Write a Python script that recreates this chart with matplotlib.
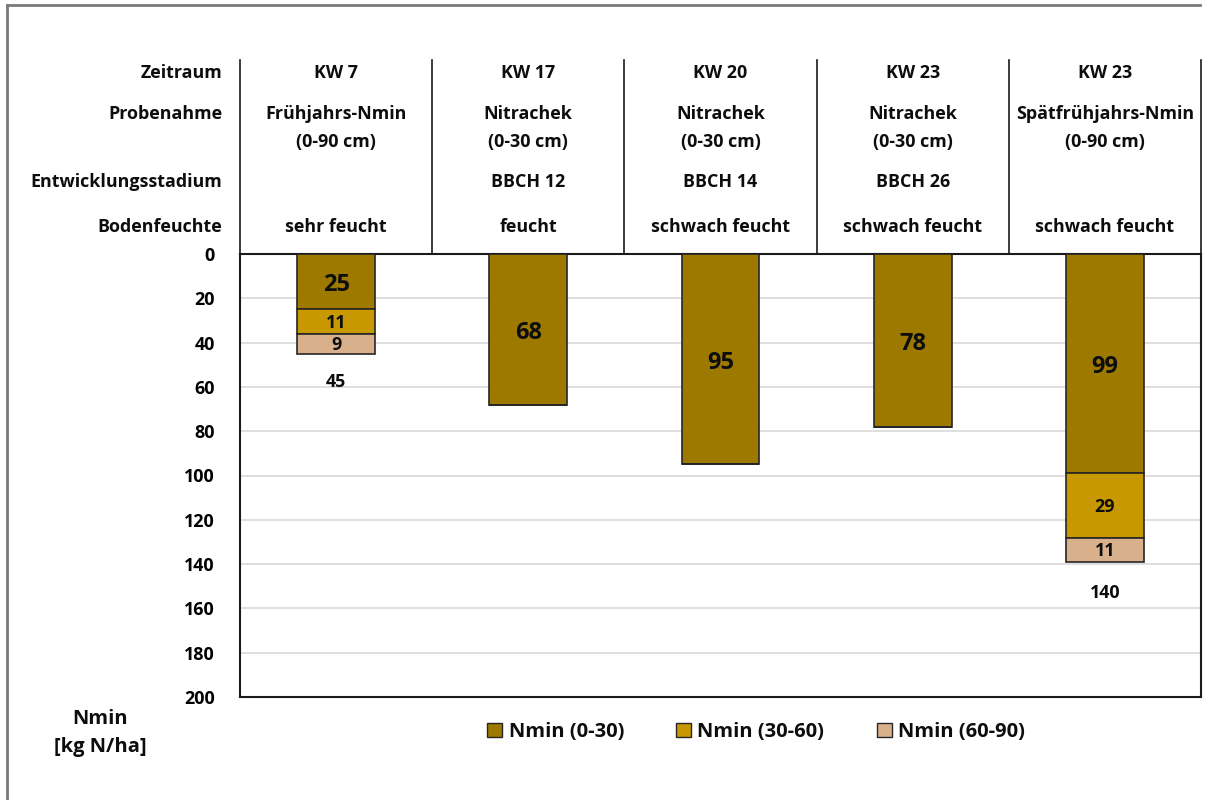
import matplotlib
matplotlib.use("Agg")
import matplotlib.pyplot as plt
from matplotlib.patches import Patch

# Nmin-Werte je Termin und Bodenschicht [kg N/ha]
termine = ["KW 7", "KW 17", "KW 20", "KW 23", "KW 23"]
probenahme = ["Frühjahrs-Nmin\n(0-90 cm)", "Nitrachek\n(0-30 cm)", "Nitrachek\n(0-30 cm)",
              "Nitrachek\n(0-30 cm)", "Spätfrühjahrs-Nmin\n(0-90 cm)"]
stadium = ["", "BBCH 12", "BBCH 14", "BBCH 26", ""]
feuchte = ["sehr feucht", "feucht", "schwach feucht", "schwach feucht", "schwach feucht"]
nmin_0_30 = [25, 68, 95, 78, 99]
nmin_30_60 = [11, 0, 0, 0, 29]
nmin_60_90 = [9, 0, 0, 0, 11]
summe_0_90 = [45, 0, 0, 0, 140]
schichten = ["Nmin (0-30)", "Nmin (30-60)", "Nmin (60-90)"]
y_ticks = [0, 20, 40, 60, 80, 100, 120, 140, 160, 180, 200]

FARBEN = ["#9E7900", "#C89800", "#D8B08C"]
EDGE = "#262626"
INK = "#0d0d0d"
GRID = "#d9d9d9"
FRAME = "#7a7a7a"
FS = 12.9

plt.rcParams.update({
    "font.family": ["Open Sans", "DejaVu Sans"],
    "font.weight": "bold",
    "font.size": FS,
    "text.color": INK,
})

W, H = 1209, 800
fig = plt.figure(figsize=(W / 100, H / 100), dpi=100)


def fx(px):
    return px / W


def fy(py):
    return 1 - py / H


# Plotbereich in Pixeln: links 240, rechts 1201, oben 254, unten 697
ax = fig.add_axes([fx(240), fy(697), fx(961), 443 / H])
x = list(range(len(termine)))
ax.set_xlim(-0.5, len(termine) - 0.5)
ax.set_ylim(200, 0)
ax.set_yticks(y_ticks)
ax.set_yticklabels([str(t) for t in y_ticks], fontsize=FS, fontweight="bold")
ax.tick_params(axis="y", length=0, pad=18)
ax.set_xticks([])
ax.grid(axis="y", color=GRID, lw=1.2, zorder=0)
for s in ax.spines.values():
    s.set_color("#1a1a1a")
    s.set_linewidth(1.5)

bottom = [0] * len(x)
for i, (werte, farbe) in enumerate(zip([nmin_0_30, nmin_30_60, nmin_60_90], FARBEN)):
    ax.bar(x, werte, bottom=bottom, width=0.405, color=farbe, edgecolor=EDGE,
           linewidth=1.2, zorder=3)
    for xi, v, b in zip(x, werte, bottom):
        if v > 0:
            ax.text(xi, b + v / 2 + (1.6 if i == 0 else 0.5), str(v), ha="center",
                    va="center", fontsize=17 if i == 0 else FS, fontweight="bold", zorder=4)
    bottom = [b + v for b, v in zip(bottom, werte)]

# Summe 0-90 cm unter den tiefen Beprobungen
for xi, total in zip(x, summe_0_90):
    if total > 0:
        ax.text(xi, total + 13, str(total), ha="center", va="center",
                fontsize=FS, fontweight="bold")

# Kopftabelle über dem Diagramm
tr = ax.get_xaxis_transform()


def ay(py):
    return (697 - py) / 443


for b in [xi - 0.5 for xi in x] + [x[-1] + 0.5]:
    ax.plot([b, b], [ay(60), 1], color="#1a1a1a", lw=1.2, transform=tr, clip_on=False)

zeilen = [("Zeitraum", 73, termine), ("Probenahme", 114, probenahme),
          ("Entwicklungsstadium", 182, stadium), ("Bodenfeuchte", 227, feuchte)]
for titel, py, werte in zeilen:
    fig.text(fx(222), fy(py), titel, ha="right", va="center", fontsize=FS)
    for xi, w in zip(x, werte):
        for k, line in enumerate(w.split("\n")):
            ax.text(xi, ay(py + 28 * k), line, ha="center", va="center",
                    fontsize=FS, transform=tr)

fig.text(fx(100), fy(719), "Nmin", ha="center", va="center", fontsize=14.5)
fig.text(fx(100), fy(747), "[kg N/ha]", ha="center", va="center", fontsize=14.5)

handles = [Patch(facecolor=f, edgecolor=EDGE, linewidth=1.0) for f in FARBEN]
fig.legend(handles, schichten, loc="center", bbox_to_anchor=(fx(756), fy(732)),
           ncol=3, frameon=False, fontsize=14.5, handlelength=0.75, handleheight=0.75,
           handletextpad=0.3, columnspacing=2.6)

# Rahmen der Grafik (oben und links sichtbar)
fig.add_artist(plt.Line2D([fx(7), fx(1200)], [fy(5), fy(5)], color=FRAME, lw=2,
                          transform=fig.transFigure))
fig.add_artist(plt.Line2D([fx(7), fx(7)], [fy(5), 0], color=FRAME, lw=2,
                          transform=fig.transFigure))

fig.savefig("out.png", dpi=100)
